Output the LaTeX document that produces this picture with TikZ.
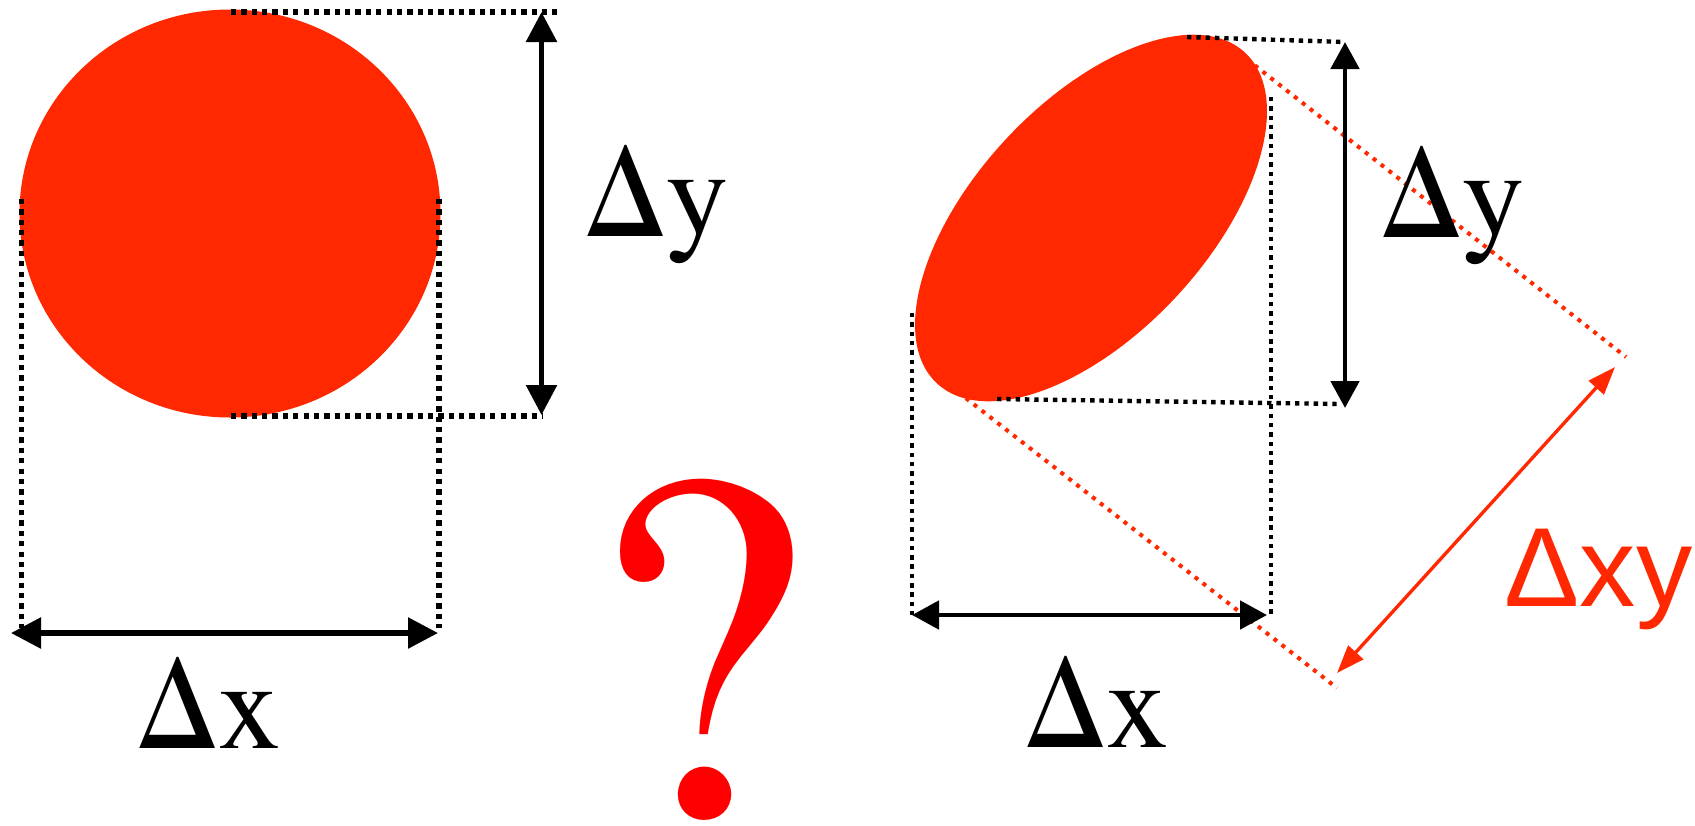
\documentclass[tikz,border=0pt]{standalone}
\usepackage{fontspec}
\setmainfont{TeX Gyre Termes}
\newfontfamily\rotulosans{Liberation Sans}
\usetikzlibrary{arrows.meta}
\usepackage{xcolor}
\definecolor{manchavermelha}{RGB}{255,40,0}
\definecolor{interrogacao}{RGB}{255,0,0}

\begin{document}
\begin{tikzpicture}[
    guia/.style={line width=1.5pt, dash pattern=on 1.5pt off 1.45pt},
    guiafina/.style={line width=1.25pt, dash pattern=on 1.25pt off 1.4pt},
    guiavermelha/.style={manchavermelha, line width=1.15pt, dash pattern=on 1.15pt off 1.7pt},
    medida/.style={line width=1.6pt, {Triangle[length=0.3cm, width=0.3cm]}-{Triangle[length=0.3cm, width=0.3cm]}},
    medidafina/.style={line width=1.4pt, {Triangle[length=0.27cm, width=0.28cm]}-{Triangle[length=0.27cm, width=0.28cm]}},
    medidaxy/.style={manchavermelha, line width=0.95pt, {Triangle[length=0.28cm, width=0.2cm]}-{Triangle[length=0.28cm, width=0.2cm]}},
    rotulo/.style={anchor=base, inner sep=0pt, font=\fontsize{35.5}{40}\selectfont}
]
    \useasboundingbox (0, 0) rectangle (16.95, -8.25);

    % Circulo
    \fill[manchavermelha] (2.30, -2.135) ellipse [x radius=2.105, y radius=2.04];

    \draw[guia] (2.31, -0.12) -- (5.57, -0.12);
    \draw[guia] (2.31, -4.16) -- (5.43, -4.16);
    \draw[guia] (0.218, -1.99) -- (0.218, -6.28);
    \draw[guia] (4.39, -1.99) -- (4.39, -6.28);

    \coordinate (cy1) at (5.415, -0.12);
    \coordinate (cy2) at (5.415, -4.15);
    \coordinate (cx1) at (0.11, -6.33);
    \coordinate (cx2) at (4.38, -6.33);
    \draw[medida] (cy1) -- (cy2);
    \draw[medida] (cx1) -- (cx2);

    \node[rotulo] (dyEsq) at (6.57, -2.36) {Δy};
    \node[rotulo] (dxEsq) at (2.09, -7.48) {Δx};

    % Interrogacao
    \node[anchor=base, inner sep=0pt, interrogacao, font=\fontsize{142}{148}\selectfont] (pergunta) at (6.97, -8.16) {?};

    % Elipse inclinada
    \fill[manchavermelha, rotate around={47:(10.91, -2.18)}] (10.91, -2.18) ellipse [x radius=2.26, y radius=1.16];

    \draw[guiafina] (11.87, -0.37) -- (13.45, -0.42);
    \draw[guiafina] (9.97, -3.99) -- (13.40, -4.04);
    \draw[guiafina] (9.12, -3.13) -- (9.12, -6.15);
    \draw[guiafina] (12.71, -0.97) -- (12.71, -6.15);

    \draw[guiavermelha] (12.39, -0.53) -- (16.26, -3.57);
    \draw[guiavermelha] (9.58, -3.92) -- (13.37, -6.88);

    \coordinate (ey1) at (13.45, -0.42);
    \coordinate (ey2) at (13.45, -4.08);
    \coordinate (ex1) at (9.12, -6.15);
    \coordinate (ex2) at (12.67, -6.15);
    \coordinate (exy1) at (13.37, -6.73);
    \coordinate (exy2) at (16.15, -3.67);
    \draw[medidafina] (ey1) -- (ey2);
    \draw[medidafina] (ex1) -- (ex2);
    \draw[medidaxy] (exy1) -- (exy2);

    \node[rotulo] (dyDir) at (14.53, -2.37) {Δy};
    \node[rotulo] (dxDir) at (10.97, -7.47) {Δx};
    \node[anchor=base west, inner sep=0pt, manchavermelha, font=\rotulosans\fontsize{32}{36}\selectfont] (dxy) at (15.04, -6.06) {Δxy};
\end{tikzpicture}
\end{document}
